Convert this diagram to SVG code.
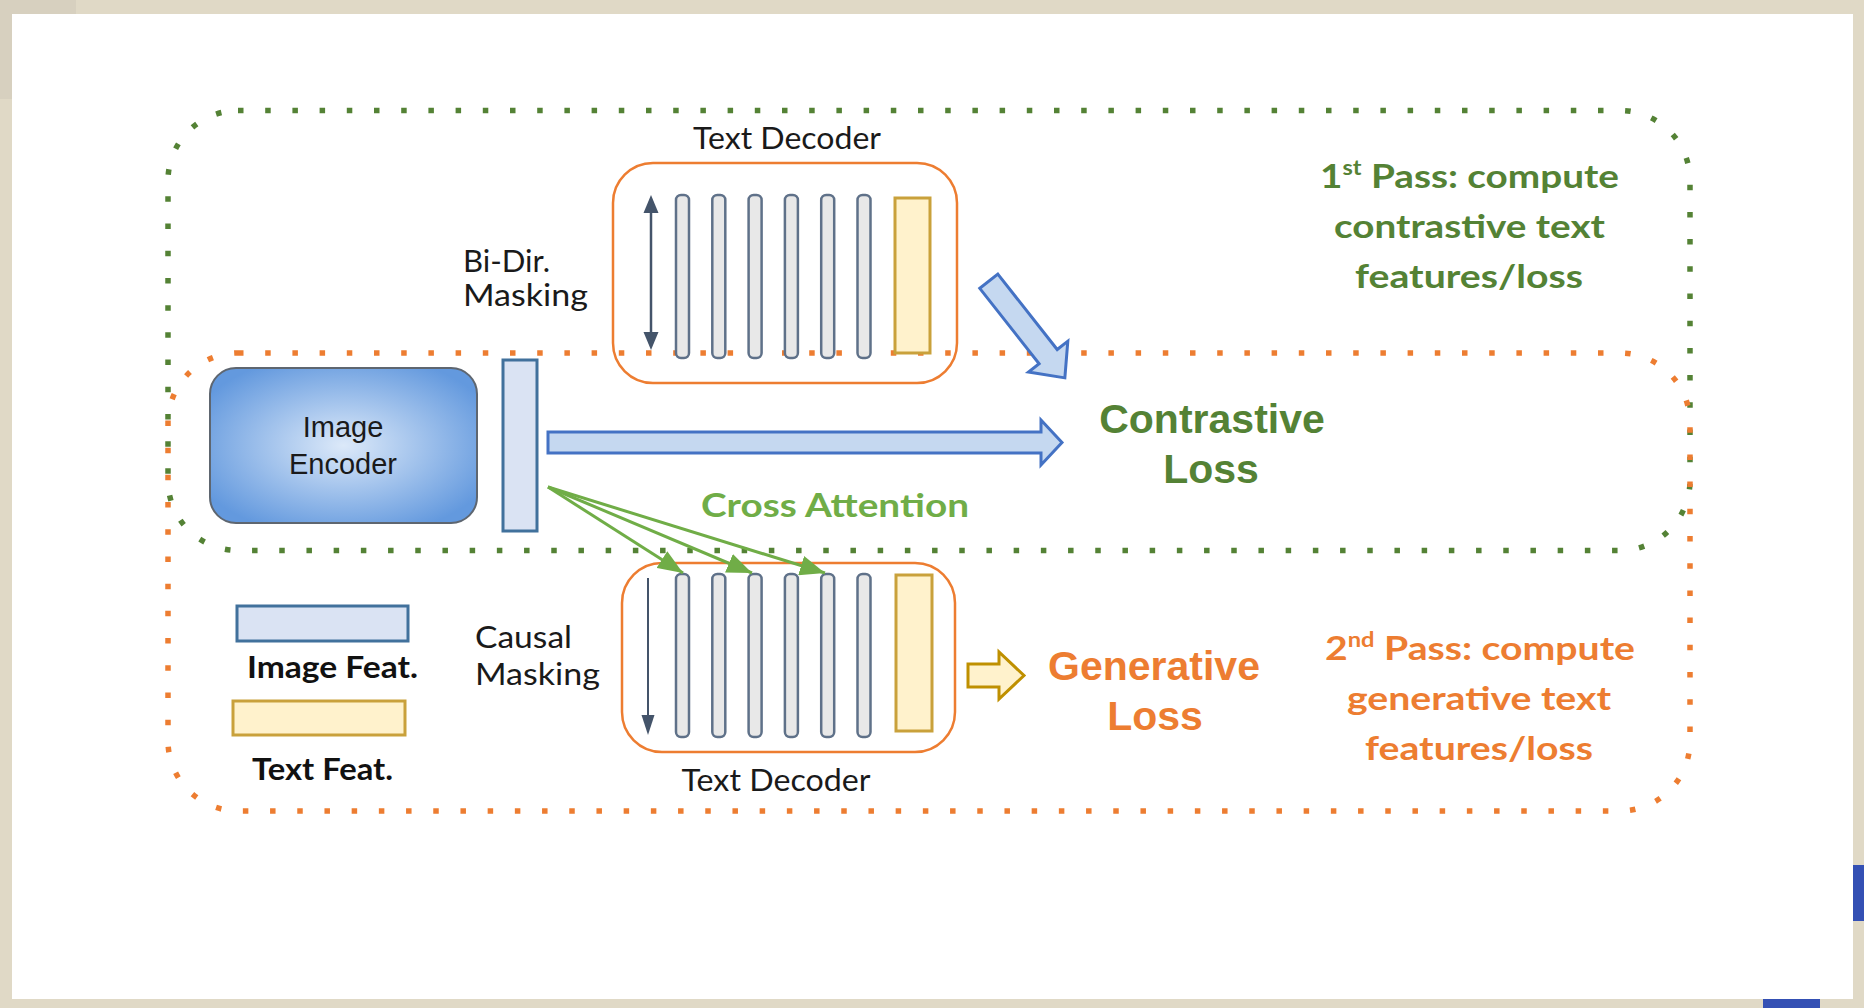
<svg xmlns="http://www.w3.org/2000/svg" width="1864" height="1008" viewBox="0 0 1864 1008">
  <style>
    .dotG { fill: none; stroke: #548235; stroke-width: 5.5; stroke-dasharray: 5.5 21.7; }
    .dotO { fill: none; stroke: #ED7D31; stroke-width: 5.5; stroke-dasharray: 5.5 21.7; }
    .lbl { font-family: Lato, "Liberation Sans", sans-serif; fill: #1a1a1a; font-size: 31px; }
    .lblb { font-family: Lato, "Liberation Sans", sans-serif; fill: #111; font-size: 31px; font-weight: bold; }
    .ar { font-family: "Liberation Sans", Arial, sans-serif; }
    .big { font-family: "Liberation Sans", Arial, sans-serif; font-size: 41px; font-weight: bold; }
    .pass { font-family: Lato, "Liberation Sans", sans-serif; font-size: 33px; font-weight: bold; text-anchor: middle; }
    .tok { fill: #E8E8E8; stroke: #5F7189; stroke-width: 2.5; }
    .txtfeat { fill: #FFF2CC; stroke: #C9A13B; stroke-width: 3; }
    .imgfeat { fill: #DAE3F3; stroke: #41719C; stroke-width: 3; }
    .decbox { fill: none; stroke: #ED7D31; stroke-width: 2.5; }
    .ca { stroke: #70AD47; stroke-width: 3; fill: none; }
    .blueArrow { fill: #C5D8F0; stroke: #4472C4; stroke-width: 3; stroke-linejoin: miter; }
  </style>
  <defs>
    <radialGradient id="encGrad" cx="50%" cy="50%" r="60%">
      <stop offset="0" stop-color="#DCE9F9"/>
      <stop offset="1" stop-color="#6399DE"/>
    </radialGradient>
    <marker id="caHead" markerUnits="userSpaceOnUse" markerWidth="26" markerHeight="20" refX="25" refY="10" orient="auto">
      <path d="M0,0 L25,10 L0,20 z" fill="#70AD47"/>
    </marker>
    <rect id="tokTop" x="0" y="0" width="13" height="163" rx="5"/>
  </defs>

  <g id="background">
    <rect x="0" y="0" width="1864" height="1008" fill="#E0D9C6"/>
    <rect x="0" y="0" width="76" height="99" fill="#D7D0BF"/>
    <rect x="12" y="14" width="1841" height="985" fill="#FFFFFF"/>
    <rect x="1853" y="865" width="11" height="56" fill="#3450B4"/>
    <rect x="1763" y="999" width="57" height="9" fill="#3450B4"/>
  </g>

  <g id="region-contrastive">
    <rect class="dotG" x="168" y="110.5" width="1522" height="440" rx="70"/>
  </g>
  <g id="region-generative">
    <rect class="dotO" x="168" y="353" width="1522" height="458" rx="70"/>
  </g>

  <g id="image-encoder">
    <rect x="210" y="368" width="267" height="155" rx="26" fill="url(#encGrad)" stroke="#5E6670" stroke-width="2"/>
    <text class="ar" x="343" y="437" font-size="29" fill="#1a1a1a" text-anchor="middle">Image</text>
    <text class="ar" x="343" y="474" font-size="29" fill="#1a1a1a" text-anchor="middle">Encoder</text>
  </g>

  <g id="image-feature">
    <rect class="imgfeat" x="503" y="360" width="34" height="171"/>
  </g>

  <g id="text-decoder-top">
    <text class="lbl" x="787" y="149" text-anchor="middle" textLength="188" lengthAdjust="spacingAndGlyphs">Text Decoder</text>
    <rect class="decbox" x="613" y="163" width="344" height="220" rx="40"/>
    <line x1="651" y1="210" x2="651" y2="335" stroke="#44546A" stroke-width="2.5"/>
    <polygon points="643.5,213 658.5,213 651,195" fill="#44546A"/>
    <polygon points="643.5,332 658.5,332 651,350" fill="#44546A"/>
    <use href="#tokTop" class="tok" x="676" y="195"/>
    <use href="#tokTop" class="tok" x="712.3" y="195"/>
    <use href="#tokTop" class="tok" x="748.6" y="195"/>
    <use href="#tokTop" class="tok" x="784.9" y="195"/>
    <use href="#tokTop" class="tok" x="821.2" y="195"/>
    <use href="#tokTop" class="tok" x="857.5" y="195"/>
    <rect class="txtfeat" x="895" y="198" width="35" height="155"/>
  </g>

  <g id="bidir-label">
    <text class="lbl" x="463" y="272" textLength="87" lengthAdjust="spacingAndGlyphs">Bi-Dir.</text>
    <text class="lbl" x="463" y="306" textLength="125" lengthAdjust="spacingAndGlyphs">Masking</text>
  </g>

  <g id="text-decoder-bottom">
    <rect class="decbox" x="622" y="563" width="333" height="189" rx="40"/>
    <line x1="648" y1="578" x2="648" y2="718" stroke="#44546A" stroke-width="2"/>
    <polygon points="641.5,715 654.5,715 648,735" fill="#44546A"/>
    <use href="#tokTop" class="tok" x="676" y="574"/>
    <use href="#tokTop" class="tok" x="712.3" y="574"/>
    <use href="#tokTop" class="tok" x="748.6" y="574"/>
    <use href="#tokTop" class="tok" x="784.9" y="574"/>
    <use href="#tokTop" class="tok" x="821.2" y="574"/>
    <use href="#tokTop" class="tok" x="857.5" y="574"/>
    <rect class="txtfeat" x="896" y="575" width="36" height="156"/>
    <text class="lbl" x="776" y="791" text-anchor="middle" textLength="189" lengthAdjust="spacingAndGlyphs">Text Decoder</text>
  </g>

  <g id="causal-label">
    <text class="lbl" x="475" y="648" textLength="97" lengthAdjust="spacingAndGlyphs">Causal</text>
    <text class="lbl" x="475" y="685" textLength="125" lengthAdjust="spacingAndGlyphs">Masking</text>
  </g>

  <g id="legend">
    <rect class="imgfeat" x="237" y="606" width="171" height="35"/>
    <text class="lblb" x="332.5" y="678" text-anchor="middle" textLength="171" lengthAdjust="spacingAndGlyphs">Image Feat.</text>
    <rect class="txtfeat" x="233" y="701" width="172" height="34"/>
    <text class="lblb" x="322.5" y="780" text-anchor="middle" textLength="141" lengthAdjust="spacingAndGlyphs">Text Feat.</text>
  </g>

  <g id="contrastive-loss">
    <text class="big" x="1212" y="433" fill="#548235" text-anchor="middle">Contrastive</text>
    <text class="big" x="1211" y="483" fill="#548235" text-anchor="middle">Loss</text>
  </g>

  <g id="generative-loss">
    <text class="big" x="1154" y="680" fill="#ED7D31" text-anchor="middle">Generative</text>
    <text class="big" x="1155" y="730" fill="#ED7D31" text-anchor="middle">Loss</text>
  </g>

  <g id="pass1" fill="#548235">
    <text class="pass" x="1469.5" y="188" textLength="299" lengthAdjust="spacingAndGlyphs">1<tspan font-size="20" dy="-13">st</tspan><tspan dy="13"> Pass: compute</tspan></text>
    <text class="pass" x="1469.5" y="238" textLength="271" lengthAdjust="spacingAndGlyphs">contrastive text</text>
    <text class="pass" x="1469" y="288" textLength="228" lengthAdjust="spacingAndGlyphs">features/loss</text>
  </g>

  <g id="pass2" fill="#ED7D31">
    <text class="pass" x="1480" y="660" textLength="310" lengthAdjust="spacingAndGlyphs">2<tspan font-size="20" dy="-13">nd</tspan><tspan dy="13"> Pass: compute</tspan></text>
    <text class="pass" x="1479" y="710" textLength="264" lengthAdjust="spacingAndGlyphs">generative text</text>
    <text class="pass" x="1479" y="760" textLength="228" lengthAdjust="spacingAndGlyphs">features/loss</text>
  </g>

  <g id="cross-attention-label">
    <text x="835" y="517" font-family="Lato, 'Liberation Sans', sans-serif" font-size="33" font-weight="bold" fill="#70AD47" text-anchor="middle" textLength="268" lengthAdjust="spacingAndGlyphs">Cross Attention</text>
  </g>

  <g id="connectors">
    <polygon class="blueArrow" points="548,432 1041,432 1041,420 1062,442.5 1041,465 1041,453 548,453"/>
    <polygon class="blueArrow" transform="translate(988.8,281.2) rotate(51.8)" points="0,-11.5 96,-11.5 96,-25 123,0 96,25 96,11.5 0,11.5"/>
    <polygon points="968,664 999,664 999,652 1024,675.5 999,699 999,687 968,687" fill="#FFF2CC" stroke="#BF9000" stroke-width="3"/>
    <line class="ca" x1="548" y1="487" x2="683" y2="573" marker-end="url(#caHead)"/>
    <line class="ca" x1="548" y1="487" x2="752" y2="573" marker-end="url(#caHead)"/>
    <line class="ca" x1="548" y1="487" x2="825" y2="573" marker-end="url(#caHead)"/>
  </g>
</svg>
